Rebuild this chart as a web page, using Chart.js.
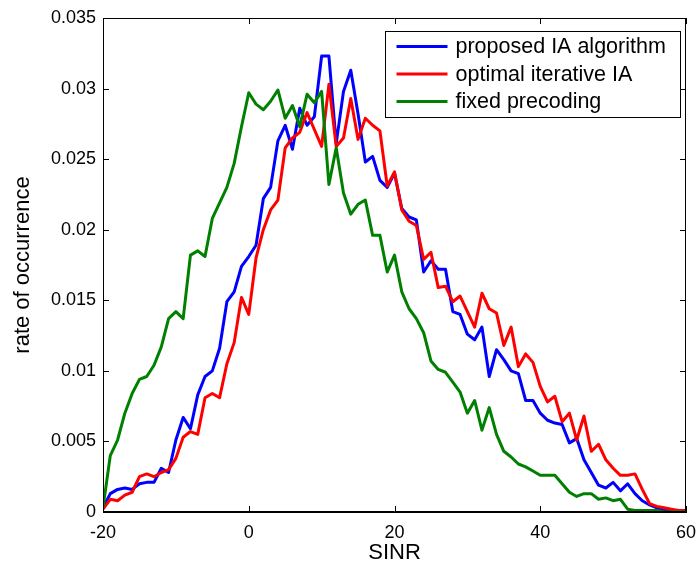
<!DOCTYPE html>
<html><head><meta charset="utf-8">
<script src="https://cdn.jsdelivr.net/npm/chart.js@4/dist/chart.umd.min.js"></script>
<style>html,body{margin:0;padding:0;background:#fff;} #wrap{width:698px;height:567px;}</style>
</head><body><div id="wrap"><canvas id="c" width="698" height="567"></canvas></div>
<script>
const sinr = [-20,-19,-18,-17,-16,-15,-14,-13,-12,-11,-10,-9,-8,-7,-6,-5,-4,-3,-2,-1,0,1,2,3,4,5,6,7,8,9,10,11,12,13,14,15,16,17,18,19,20,21,22,23,24,25,26,27,28,29,30,31,32,33,34,35,36,37,38,39,40,41,42,43,44,45,46,47,48,49,50,51,52,53,54,55,56,57,58,59,60];
const proposedIA = [0.0003,0.0013,0.0016,0.0017,0.0016,0.0020,0.0021,0.0021,0.0031,0.0028,0.0051,0.0067,0.0059,0.0083,0.0096,0.0100,0.0116,0.0149,0.0156,0.0174,0.0181,0.0189,0.0222,0.0230,0.0263,0.0274,0.0257,0.0286,0.0274,0.0280,0.0323,0.0323,0.0261,0.0298,0.0313,0.0282,0.0248,0.0252,0.0235,0.0230,0.0240,0.0215,0.0209,0.0207,0.0170,0.0178,0.0172,0.0172,0.0142,0.0140,0.0126,0.0122,0.0131,0.0096,0.0115,0.0108,0.0100,0.0098,0.0079,0.0079,0.0070,0.0065,0.0063,0.0062,0.0049,0.0052,0.0037,0.0028,0.0019,0.0017,0.0021,0.0015,0.0020,0.0013,0.0008,0.0005,0.0003,0.0001,0.0001,0.0000,0.0000];
const optimalIA = [0.0002,0.0009,0.0008,0.0012,0.0014,0.0025,0.0027,0.0025,0.0028,0.0030,0.0038,0.0053,0.0057,0.0055,0.0081,0.0084,0.0081,0.0105,0.0120,0.0152,0.0140,0.0180,0.0200,0.0214,0.0221,0.0258,0.0265,0.0269,0.0283,0.0271,0.0259,0.0303,0.0259,0.0265,0.0293,0.0264,0.0279,0.0274,0.0270,0.0231,0.0241,0.0214,0.0206,0.0203,0.0179,0.0184,0.0159,0.0160,0.0149,0.0153,0.0142,0.0131,0.0155,0.0144,0.0141,0.0118,0.0131,0.0103,0.0112,0.0106,0.0089,0.0078,0.0082,0.0064,0.0070,0.0051,0.0068,0.0043,0.0048,0.0037,0.0031,0.0026,0.0026,0.0027,0.0016,0.0006,0.0004,0.0003,0.0002,0.0001,0.0001];
const fixedPrecoding = [0.0003,0.0040,0.0051,0.0070,0.0084,0.0094,0.0096,0.0104,0.0117,0.0137,0.0142,0.0137,0.0182,0.0185,0.0181,0.0208,0.0219,0.0230,0.0247,0.0273,0.0297,0.0289,0.0285,0.0291,0.0299,0.0279,0.0288,0.0273,0.0296,0.0290,0.0298,0.0232,0.0258,0.0226,0.0211,0.0218,0.0221,0.0196,0.0196,0.0170,0.0182,0.0156,0.0144,0.0137,0.0127,0.0107,0.0101,0.0099,0.0092,0.0085,0.0070,0.0079,0.0058,0.0074,0.0055,0.0043,0.0039,0.0034,0.0032,0.0029,0.0026,0.0026,0.0026,0.0020,0.0014,0.0011,0.0013,0.0013,0.0009,0.0010,0.0008,0.0009,0.0002,0.0001,0.0001,0.0001,0.0001,0.0000,0.0000,0.0000,0.0000];
const seriesNames = ['proposed IA algorithm', 'optimal iterative IA', 'fixed precoding'];
const xTicks = [-20, 0, 20, 40, 60];
const yTicks = [0, 0.005, 0.01, 0.015, 0.02, 0.025, 0.03, 0.035];
const xTitle = 'SINR';
const yTitle = 'rate of occurrence';

const FONT = '"Liberation Sans", Arial, Helvetica, sans-serif';
const colors = ['#0000ff', '#ff0000', '#008000'];
const seriesValues = [proposedIA, optimalIA, fixedPrecoding];

const datasets = seriesValues.map((vals, i) => ({
  label: seriesNames[i],
  data: sinr.map((x, j) => ({x: x, y: vals[j]})),
  borderColor: colors[i],
  backgroundColor: colors[i],
  borderWidth: 3,
  pointRadius: 0,
  tension: 0,
  fill: false,
  borderJoinStyle: 'round',
  borderCapStyle: 'butt',
  order: 2 - i
}));

const framePlugin = {
  id: 'frame',
  afterDraw(chart) {
    const ctx = chart.ctx;
    const a = chart.chartArea;
    const xs = chart.scales.x, ys = chart.scales.y;
    ctx.save();
    ctx.strokeStyle = '#000';
    ctx.lineWidth = 1;
    ctx.beginPath();
    ctx.moveTo(a.left + 0.5, a.top + 0.5);
    ctx.lineTo(a.right - 0.5, a.top + 0.5);
    ctx.lineTo(a.right - 0.5, a.bottom - 0.5);
    ctx.lineTo(a.left + 0.5, a.bottom - 0.5);
    ctx.closePath();
    ctx.stroke();
    const tl = 6;
    ctx.beginPath();
    xTicks.forEach(v => {
      const p = Math.round(xs.getPixelForValue(v)) + 0.5;
      ctx.moveTo(p, a.bottom); ctx.lineTo(p, a.bottom - tl);
      ctx.moveTo(p, a.top); ctx.lineTo(p, a.top + tl);
    });
    yTicks.forEach(v => {
      const p = Math.round(ys.getPixelForValue(v)) + 0.5;
      ctx.moveTo(a.left, p); ctx.lineTo(a.left + tl, p);
      ctx.moveTo(a.right, p); ctx.lineTo(a.right - tl, p);
    });
    ctx.stroke();

    // legend
    const bw = 295, bh = 86;
    const bx = Math.round(a.right - 6 - bw) + 0.5;
    const by = Math.round(a.top + 13) + 0.5;
    ctx.fillStyle = '#fff';
    ctx.fillRect(bx, by, bw, bh);
    ctx.strokeStyle = '#000';
    ctx.lineWidth = 1;
    ctx.strokeRect(bx, by, bw, bh);
    ctx.font = '21.5px ' + FONT;
    ctx.textBaseline = 'middle';
    ctx.textAlign = 'left';
    chart.data.datasets.forEach((ds, i) => {
      const cy = by + 15 + i * 27.5;
      ctx.strokeStyle = ds.borderColor;
      ctx.lineWidth = 3;
      ctx.beginPath();
      ctx.moveTo(bx + 11, cy); ctx.lineTo(bx + 62, cy);
      ctx.stroke();
      ctx.fillStyle = '#000';
      ctx.fillText(ds.label, bx + 70, cy + 1);
    });
    ctx.restore();
  }
};

new Chart(document.getElementById('c'), {
  type: 'line',
  data: { datasets: datasets },
  options: {
    responsive: false,
    animation: false,
    devicePixelRatio: 1,
    layout: { padding: { top: 18, right: 12, left: 0, bottom: 0 } },
    plugins: { legend: { display: false }, tooltip: { enabled: false } },
    scales: {
      x: {
        type: 'linear', min: -20, max: 60,
        afterBuildTicks: s => { s.ticks = xTicks.map(v => ({ value: v })); },
        afterFit: s => { s.height = 55; s.paddingLeft = 0; s.paddingRight = 0; },
        grid: { display: false, drawTicks: false },
        border: { display: true, color: '#000', width: 1 },
        ticks: { color: '#000', font: { family: FONT, size: 18 }, padding: 10, maxRotation: 0,
                 callback: v => String(v) },
        title: { display: true, text: xTitle, color: '#000', font: { family: FONT, size: 22 }, padding: { top: 0, bottom: 1 } }
      },
      y: {
        type: 'linear', min: 0, max: 0.035,
        afterBuildTicks: s => { s.ticks = yTicks.map(v => ({ value: v })); },
        afterFit: s => { s.width = 103; s.paddingTop = 0; s.paddingBottom = 0; },
        grid: { display: false, drawTicks: false },
        border: { display: true, color: '#000', width: 1 },
        ticks: { color: '#000', font: { family: FONT, size: 18 }, padding: 7,
                 callback: v => (v === 0 ? '0' : String(Number(v.toFixed(3)))) },
        title: { display: true, text: yTitle, color: '#000', font: { family: FONT, size: 22 }, padding: { top: 10, bottom: 0 } }
      }
    }
  },
  plugins: [framePlugin]
});
</script>
</body></html>
